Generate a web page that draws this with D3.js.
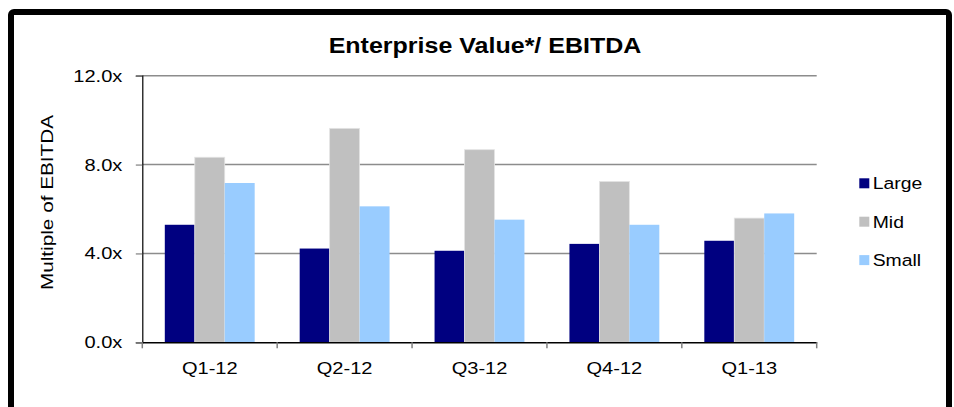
<!DOCTYPE html>
<html>
<head>
<meta charset="utf-8">
<script src="https://cdn.jsdelivr.net/npm/d3@7"></script>
<style>
  html, body { margin: 0; padding: 0; background: #fff; }
  svg { display: block; font-family: "Liberation Sans", Arial, sans-serif; }
</style>
</head>
<body>
<div id="container"></div>
<script>
const width = 954;
const height = 407;

// data
const quarters = ["Q1-12", "Q2-12", "Q3-12", "Q4-12", "Q1-13"];
const seriesNames = ["Large", "Mid", "Small"];
const largeValues = [5.29, 4.22, 4.12, 4.43, 4.57];
const midValues = [8.33, 9.63, 8.67, 7.24, 5.59];
const smallValues = [7.17, 6.12, 5.52, 5.29, 5.80];
const yTicks = [0, 4, 8, 12];

const colors = ["#000080", "#C0C0C0", "#99CCFF"];
const seriesValues = [largeValues, midValues, smallValues];

// text in the source is rendered a bit wider than Arial
const stretch = 1.18;

const rows = quarters.map((q, i) => ({
  quarter: q,
  values: seriesNames.map((s, j) => ({ series: s, value: seriesValues[j][i], color: colors[j] }))
}));

const svg = d3.select("#container")
  .append("svg")
  .attr("width", width)
  .attr("height", height);

// outer frame
svg.append("rect")
  .attr("x", 11)
  .attr("y", 12)
  .attr("width", 938)
  .attr("height", 430)
  .attr("rx", 3)
  .attr("fill", "#fff")
  .attr("stroke", "#000")
  .attr("stroke-width", 6);

const x0 = d3.scaleBand()
  .domain(quarters)
  .range([142.3, 816.7])
  .padding(0);

const x1 = d3.scaleBand()
  .domain(seriesNames)
  .range([22.5, x0.bandwidth() - 22.5])
  .padding(0);

const y = d3.scaleLinear()
  .domain([0, 12])
  .range([342.3, 75.7]);

// gridlines
svg.append("g")
  .selectAll("line")
  .data(yTicks.filter(d => d > 0))
  .enter()
  .append("line")
  .attr("x1", x0.range()[0])
  .attr("x2", x0.range()[1])
  .attr("y1", d => y(d))
  .attr("y2", d => y(d))
  .attr("stroke", "#8c8c8c")
  .attr("stroke-width", 1.5);

// bars
const groups = svg.append("g")
  .selectAll("g")
  .data(rows)
  .enter()
  .append("g")
  .attr("transform", d => `translate(${x0(d.quarter)},0)`);

groups.selectAll("rect")
  .data(d => d.values)
  .enter()
  .append("rect")
  .attr("x", d => x1(d.series))
  .attr("y", d => y(d.value))
  .attr("width", x1.bandwidth())
  .attr("height", d => y(0) - y(d.value))
  .attr("fill", d => d.color)
  .attr("stroke", d => d.series === "Mid" ? "#e4e4e4" : "none")
  .attr("stroke-width", 0.8);

// y axis
const yAxis = svg.append("g")
  .attr("transform", `translate(${x0.range()[0]},0)`)
  .call(d3.axisLeft(y).tickValues(yTicks).tickSize(6.5).tickFormat(d => d.toFixed(1) + "x"));

yAxis.select(".domain").attr("stroke", "#000").attr("stroke-width", 1.2);
yAxis.selectAll(".tick line").attr("stroke", "#808080").attr("stroke-width", 1.2);
yAxis.selectAll(".tick text")
  .attr("x", -20 / stretch)
  .attr("dy", "0.32em")
  .attr("transform", `scale(${stretch},1)`)
  .style("font-size", "17px")
  .attr("fill", "#000");

// x axis
const xAxis = svg.append("g")
  .attr("transform", `translate(0,${y(0)})`)
  .call(d3.axisBottom(x0).tickSize(0));

xAxis.select(".domain").attr("stroke", "#000").attr("stroke-width", 1.5);
xAxis.selectAll(".tick text")
  .attr("y", 0)
  .attr("dy", 0)
  .attr("transform", `translate(0,31.7) scale(${stretch},1)`)
  .style("font-size", "17px")
  .attr("fill", "#000");

// category separators below axis
svg.append("g")
  .selectAll("line")
  .data(quarters.concat(["end"]))
  .enter()
  .append("line")
  .attr("x1", (d, i) => i < quarters.length ? x0(d) : x0.range()[1])
  .attr("x2", (d, i) => i < quarters.length ? x0(d) : x0.range()[1])
  .attr("y1", y(0))
  .attr("y2", y(0) + 6)
  .attr("stroke", "#808080")
  .attr("stroke-width", 1.5);

// title
svg.append("text")
  .attr("transform", `translate(485,53.3) scale(1.137,1)`)
  .attr("text-anchor", "middle")
  .style("font-size", "22px")
  .style("font-weight", "bold")
  .text("Enterprise Value*/ EBITDA");

// y axis label
svg.append("text")
  .attr("transform", `translate(53.3,202.5) rotate(-90) scale(1.22,1)`)
  .attr("text-anchor", "middle")
  .style("font-size", "17px")
  .text("Multiple of EBITDA");

// legend
const legend = svg.append("g")
  .selectAll("g")
  .data(seriesNames)
  .enter()
  .append("g")
  .attr("transform", (d, i) => `translate(859.3,${183.3 + i * 38.4})`);

legend.append("rect")
  .attr("x", 0)
  .attr("y", -5)
  .attr("width", 10)
  .attr("height", 10)
  .attr("fill", (d, i) => colors[i]);

legend.append("text")
  .attr("transform", `translate(13.4,6) scale(1.14,1)`)
  .style("font-size", "17px")
  .text(d => d);
</script>
</body>
</html>
